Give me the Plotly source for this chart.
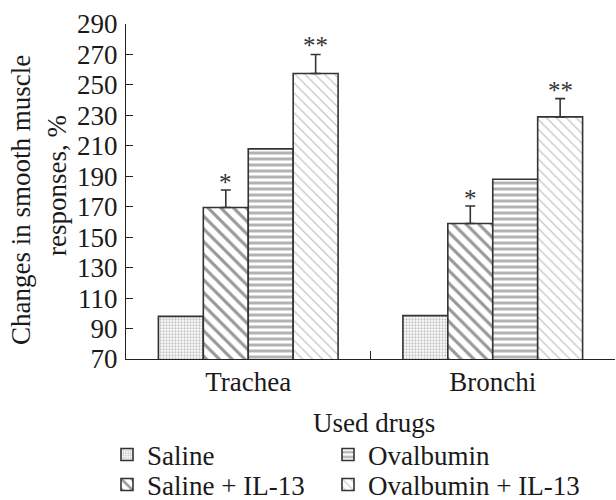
import plotly.graph_objects as go

categories = ["Trachea", "Bronchi"]
series_names = ["Saline", "Saline + IL-13", "Ovalbumin", "Ovalbumin + IL-13"]
saline = [98, 98.5]
saline_il13 = [169.5, 159]
saline_il13_err = [11.5, 11.5]
ovalbumin = [208, 188]
ovalbumin_il13 = [257.5, 229]
ovalbumin_il13_err = [12.5, 12]
stars_saline_il13 = ["*", "*"]
stars_ovalbumin_il13 = ["**", "**"]

y_ticks = list(range(70, 291, 20))
y_title_lines = ["Changes in smooth muscle", "responses, %"]
x_title = "Used drugs"

FONT = "Liberation Serif"
FS = 27
TXT = "#1a1a1a"
EDGE = "#333333"
BARGAP = 0.265
W, H = 616, 500
ML, MR, MT, MB = 126, 1, 24, 141
PW = W - ML - MR
PH = H - MT - MB

fig = go.Figure()

def add_bar(name, vals, pattern, err=None, legend="legend"):
    kw = {}
    if err is not None:
        kw["error_y"] = dict(type="data", symmetric=False, array=err,
                             arrayminus=[0] * len(err), color="#333333",
                             thickness=1.6, width=5)
    fig.add_trace(go.Bar(
        x=categories, y=vals, name=name, legend=legend,
        marker=dict(color="white", line=dict(color=EDGE, width=1.6),
                    pattern=pattern),
        **kw))

add_bar(series_names[0], saline,
        dict(shape=".", size=3, solidity=0.45, fgcolor="#8a8a8a", bgcolor="white"),
        legend="legend")
add_bar(series_names[1], saline_il13,
        dict(shape="\\", size=9, solidity=0.35, fgcolor="#333333", bgcolor="white"),
        err=saline_il13_err, legend="legend2")
add_bar(series_names[2], ovalbumin,
        dict(shape="-", size=6, solidity=0.5, fgcolor="#666666", bgcolor="white"),
        legend="legend3")
add_bar(series_names[3], ovalbumin_il13,
        dict(shape="\\", size=7, solidity=0.18, fgcolor="#8c8c8c", bgcolor="white"),
        err=ovalbumin_il13_err, legend="legend4")

# asterisk annotations above the error bars
nbars = 4
w = (1 - BARGAP) / nbars
def bar_center(ci, bi):
    return ci - (1 - BARGAP) / 2 + w * (bi + 0.5)

for ci in range(len(categories)):
    fig.add_annotation(x=bar_center(ci, 1), y=saline_il13[ci] + saline_il13_err[ci],
                       text=stars_saline_il13[ci], showarrow=False, yanchor="bottom",
                       yshift=-8, font=dict(family=FONT, size=25, color="#333333"))
    fig.add_annotation(x=bar_center(ci, 3), y=ovalbumin_il13[ci] + ovalbumin_il13_err[ci],
                       text=stars_ovalbumin_il13[ci], showarrow=False, yanchor="bottom",
                       yshift=-7, font=dict(family=FONT, size=25, color="#333333"))

# axis titles as annotations placed in pixel terms
def px_x(px):
    return (px - ML) / PW
def px_y(py):
    return (H - MB - py) / PH

fig.add_annotation(xref="paper", yref="paper", x=px_x(21), y=px_y(200),
                   text=y_title_lines[0], textangle=-90, showarrow=False,
                   xanchor="center", yanchor="middle",
                   font=dict(family=FONT, size=FS, color=TXT))
fig.add_annotation(xref="paper", yref="paper", x=px_x(57), y=px_y(186),
                   text=y_title_lines[1], textangle=-90, showarrow=False,
                   xanchor="center", yanchor="middle",
                   font=dict(family=FONT, size=FS, color=TXT))
fig.add_annotation(xref="paper", yref="paper", x=px_x(374), y=px_y(423),
                   text=x_title, showarrow=False,
                   xanchor="center", yanchor="middle",
                   font=dict(family=FONT, size=FS, color=TXT))

def legend_at(lx, cy):
    return dict(xref="container", yref="container", x=lx / W, y=1 - cy / H,
                xanchor="left", yanchor="middle", orientation="v",
                font=dict(family=FONT, size=FS, color=TXT),
                tracegroupgap=0, bgcolor="rgba(0,0,0,0)", itemwidth=30)

fig.update_layout(
    width=W, height=H,
    margin=dict(l=ML, r=MR, t=MT, b=MB, autoexpand=False),
    paper_bgcolor="white", plot_bgcolor="white",
    barmode="group", bargap=BARGAP, bargroupgap=0,
    font=dict(family=FONT, size=FS, color=TXT),
    showlegend=True,
    legend=legend_at(107, 455),
    legend2=legend_at(107, 485),
    legend3=legend_at(328, 455),
    legend4=legend_at(328, 485),
    xaxis=dict(
        range=[-0.5, 1.5], showline=True, linecolor="#222222", linewidth=1.2,
        ticks="inside", ticklen=8, tickcolor="#222222", tickson="boundaries",
        showgrid=False, zeroline=False, ticklabelstandoff=-2, automargin=False,
        tickangle=0,
        tickfont=dict(family=FONT, size=FS, color=TXT),
    ),
    yaxis=dict(
        range=[70, 290], tickvals=y_ticks, showline=True, linecolor="#222222",
        linewidth=1.2, ticks="inside", ticklen=7, tickcolor="#222222",
        showgrid=False, zeroline=False, ticklabelstandoff=2, automargin=False,
        tickfont=dict(family=FONT, size=FS, color=TXT),
    ),
)

fig.write_html("out.html", config={"displayModeBar": False},
               post_script="document.body.style.margin='0';")
